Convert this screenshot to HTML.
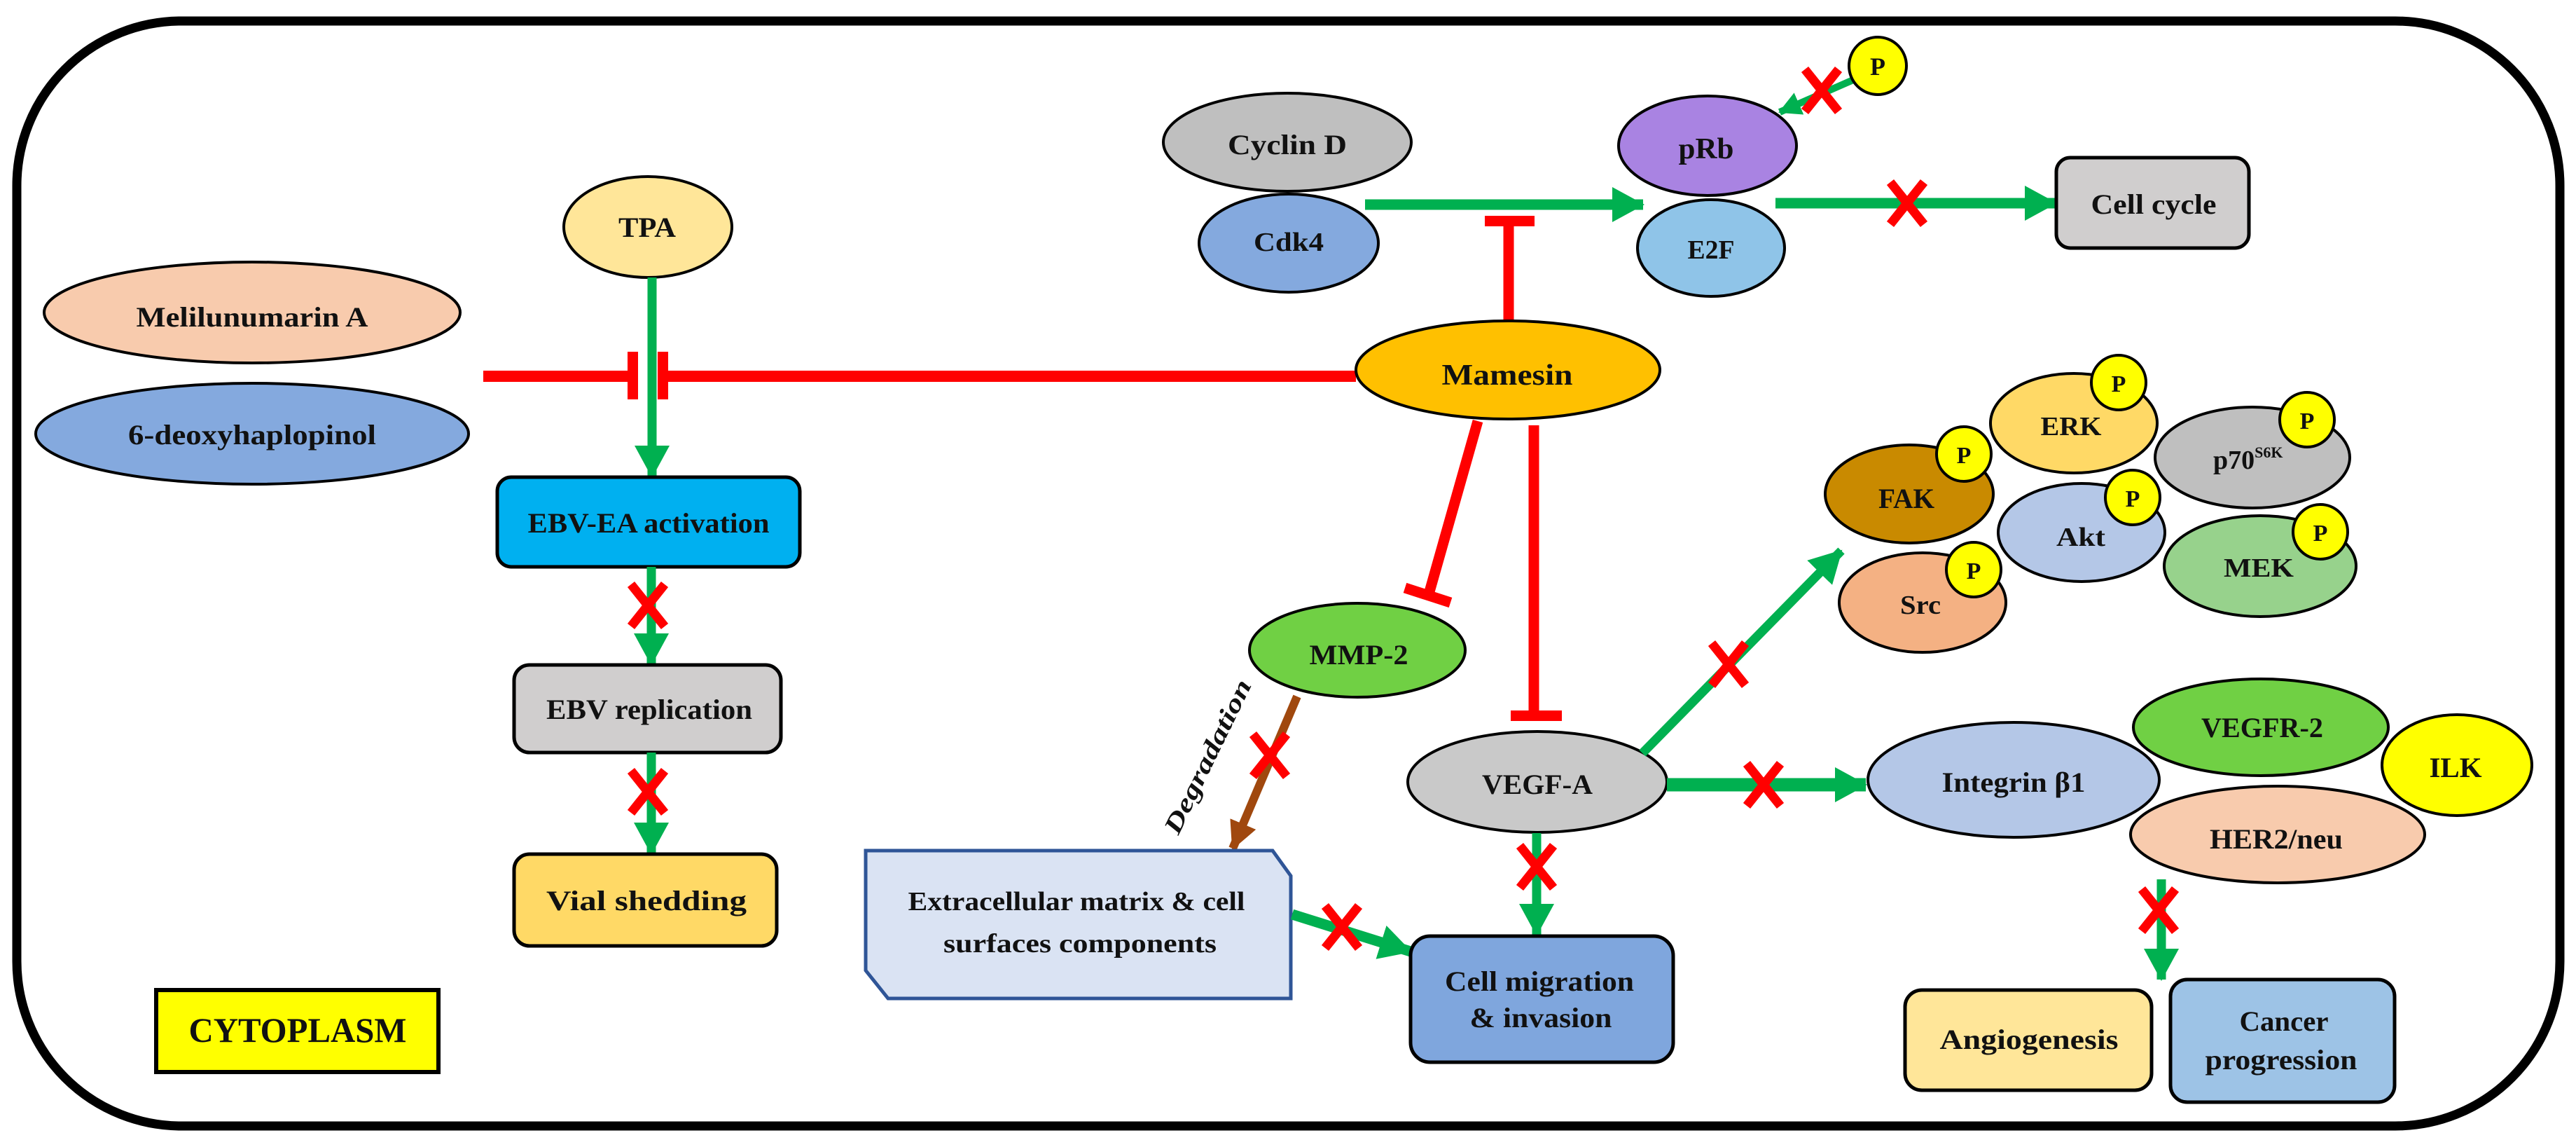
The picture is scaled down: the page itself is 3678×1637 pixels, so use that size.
<!DOCTYPE html>
<html><head><meta charset="utf-8"><style>
html,body{margin:0;padding:0;background:#fff;}
svg{display:block;}
text{font-family:"Liberation Serif",serif;font-weight:bold;fill:#111;}
</style></head><body>
<svg width="3678" height="1637" viewBox="0 0 3678 1637" xmlns="http://www.w3.org/2000/svg">
<defs>
<marker id="ag" markerUnits="userSpaceOnUse" markerWidth="46" markerHeight="50" refX="44" refY="25" orient="auto"><path d="M0,0 L46,25 L0,50 z" fill="#00B050"/></marker>
<marker id="ags" markerUnits="userSpaceOnUse" markerWidth="32" markerHeight="34" refX="30" refY="17" orient="auto"><path d="M0,0 L32,17 L0,34 z" fill="#00B050"/></marker>
<marker id="ab" markerUnits="userSpaceOnUse" markerWidth="40" markerHeight="40" refX="38" refY="20" orient="auto"><path d="M0,0 L40,20 L0,40 z" fill="#A0480E"/></marker>
<g id="x"><path d="M-24,-30 L24,30 M24,-30 L-24,30" stroke="#FF0000" stroke-width="13" stroke-linecap="butt" fill="none"/></g>
</defs>

<!-- outer cell border -->
<rect x="24" y="30" width="3631" height="1577" rx="235" ry="235" fill="#fff" stroke="#000" stroke-width="13"/>

<!-- left inhibitors -->
<ellipse cx="360" cy="446" rx="297" ry="72" fill="#F8CBAD" stroke="#000" stroke-width="4"/>
<text x="360" y="466" font-size="40" text-anchor="middle" textLength="331" lengthAdjust="spacingAndGlyphs">Melilunumarin A</text>
<ellipse cx="360" cy="619" rx="309" ry="72" fill="#84A9DE" stroke="#000" stroke-width="4"/>
<text x="360" y="634" font-size="40" text-anchor="middle" textLength="354" lengthAdjust="spacingAndGlyphs">6-deoxyhaplopinol</text>

<!-- TPA -->
<ellipse cx="925" cy="324" rx="120" ry="72" fill="#FFE699" stroke="#000" stroke-width="4"/>
<text x="924" y="338" font-size="40" text-anchor="middle" textLength="82" lengthAdjust="spacingAndGlyphs">TPA</text>

<!-- TPA -> EBV-EA -->
<line x1="931" y1="396" x2="931" y2="680" stroke="#00B050" stroke-width="13" marker-end="url(#ag)"/>
<!-- red inhibition lines -->
<line x1="690" y1="537" x2="903" y2="537" stroke="#FF0000" stroke-width="16"/>
<rect x="896" y="502" width="15" height="68" fill="#FF0000"/>
<line x1="946" y1="537" x2="1936" y2="537" stroke="#FF0000" stroke-width="16"/>
<rect x="939" y="502" width="15" height="68" fill="#FF0000"/>

<!-- EBV-EA activation -->
<rect x="710" y="681" width="432" height="128" rx="20" fill="#00B0F0" stroke="#000" stroke-width="5"/>
<text x="926" y="760" font-size="40" text-anchor="middle" textLength="345" lengthAdjust="spacingAndGlyphs">EBV-EA activation</text>
<line x1="930" y1="809" x2="930" y2="948" stroke="#00B050" stroke-width="13" marker-end="url(#ag)"/>
<use href="#x" x="925" y="864"/>
<!-- EBV replication -->
<rect x="734" y="949" width="381" height="125" rx="22" fill="#D0CECE" stroke="#000" stroke-width="5"/>
<text x="927" y="1026" font-size="40" text-anchor="middle" textLength="294" lengthAdjust="spacingAndGlyphs">EBV replication</text>
<line x1="930" y1="1074" x2="930" y2="1218" stroke="#00B050" stroke-width="13" marker-end="url(#ag)"/>
<use href="#x" x="925" y="1130"/>
<!-- Viral shedding -->
<rect x="734" y="1219" width="375" height="131" rx="22" fill="#FFD966" stroke="#000" stroke-width="5"/>
<text x="923" y="1299" font-size="40" text-anchor="middle" textLength="286" lengthAdjust="spacingAndGlyphs">Vial shedding</text>

<!-- CYTOPLASM -->
<rect x="223" y="1413" width="403" height="117" fill="#FFFF00" stroke="#000" stroke-width="6"/>
<text x="425" y="1487" font-size="50" text-anchor="middle" font-weight="normal" textLength="311" lengthAdjust="spacingAndGlyphs">CYTOPLASM</text>

<!-- Cyclin D / Cdk4 -->
<ellipse cx="1838" cy="203" rx="177" ry="70" fill="#BFBFBF" stroke="#000" stroke-width="4"/>
<text x="1838" y="220" font-size="40" text-anchor="middle" textLength="170" lengthAdjust="spacingAndGlyphs">Cyclin D</text>
<ellipse cx="1840" cy="347" rx="128" ry="70" fill="#84A9DE" stroke="#000" stroke-width="4"/>
<text x="1840" y="358" font-size="38" text-anchor="middle" textLength="100" lengthAdjust="spacingAndGlyphs">Cdk4</text>
<line x1="1949" y1="292" x2="2346" y2="292" stroke="#00B050" stroke-width="15" marker-end="url(#ag)"/>
<!-- Mamesin T to Cdk arrow -->
<line x1="2154" y1="460" x2="2154" y2="316" stroke="#FF0000" stroke-width="15"/>
<rect x="2120" y="308" width="71" height="15" fill="#FF0000"/>

<!-- pRb / E2F -->
<ellipse cx="2443" cy="354" rx="105" ry="69" fill="#8FC4E8" stroke="#000" stroke-width="4"/>
<text x="2443" y="369" font-size="38" text-anchor="middle" textLength="67" lengthAdjust="spacingAndGlyphs">E2F</text>
<ellipse cx="2438" cy="208" rx="127" ry="71" fill="#A983E2" stroke="#000" stroke-width="4"/>
<text x="2436" y="226" font-size="42" text-anchor="middle" textLength="79" lengthAdjust="spacingAndGlyphs">pRb</text>
<line x1="2646" y1="114" x2="2541" y2="160" stroke="#00B050" stroke-width="10" marker-end="url(#ags)"/>
<use href="#x" x="2601" y="129"/>
<circle cx="2681" cy="94" r="41" fill="#FFFF00" stroke="#000" stroke-width="4"/>
<text x="2681" y="107" font-size="36" text-anchor="middle">P</text>

<!-- -> cell cycle -->
<line x1="2535" y1="290" x2="2935" y2="290" stroke="#00B050" stroke-width="15" marker-end="url(#ag)"/>
<use href="#x" x="2723" y="290"/>
<rect x="2936" y="225" width="275" height="129" rx="20" fill="#D0CECE" stroke="#000" stroke-width="5"/>
<text x="3075" y="305" font-size="40" text-anchor="middle" textLength="179" lengthAdjust="spacingAndGlyphs">Cell cycle</text>

<!-- Mamesin -->
<ellipse cx="2153" cy="528" rx="217" ry="70" fill="#FFC000" stroke="#000" stroke-width="4"/>
<text x="2152" y="549" font-size="42" text-anchor="middle" textLength="187" lengthAdjust="spacingAndGlyphs">Mamesin</text>
<!-- to MMP-2 -->
<line x1="2110" y1="601" x2="2040" y2="848" stroke="#FF0000" stroke-width="15"/>
<line x1="2006" y1="839" x2="2071" y2="860" stroke="#FF0000" stroke-width="15"/>
<!-- to VEGF-A -->
<line x1="2190" y1="607" x2="2190" y2="1020" stroke="#FF0000" stroke-width="15"/>
<rect x="2157" y="1014" width="73" height="15" fill="#FF0000"/>

<!-- MMP-2 -->
<ellipse cx="1938" cy="928" rx="154" ry="67" fill="#70D044" stroke="#000" stroke-width="4"/>
<text x="1940" y="948" font-size="40" text-anchor="middle" textLength="141" lengthAdjust="spacingAndGlyphs">MMP-2</text>
<line x1="1852" y1="994" x2="1760" y2="1211" stroke="#A0480E" stroke-width="12" marker-end="url(#ab)"/>
<use href="#x" x="1813" y="1078"/>
<text x="0" y="0" font-size="36" font-style="italic" text-anchor="middle" textLength="240" lengthAdjust="spacingAndGlyphs" transform="translate(1735,1085) rotate(-64)">Degradation</text>

<!-- ECM -->
<polygon points="1236,1214 1817,1214 1843,1250 1843,1425 1268,1425 1236,1385" fill="#DAE3F3" stroke="#2F5597" stroke-width="5"/>
<text x="1537" y="1299" font-size="38" text-anchor="middle" font-weight="normal" textLength="481" lengthAdjust="spacingAndGlyphs">Extracellular matrix &amp; cell</text>
<text x="1542" y="1359" font-size="38" text-anchor="middle" font-weight="normal" textLength="390" lengthAdjust="spacingAndGlyphs">surfaces components</text>
<line x1="1845" y1="1305" x2="2014" y2="1358" stroke="#00B050" stroke-width="15" marker-end="url(#ag)"/>
<use href="#x" x="1916" y="1323"/>

<!-- VEGF-A -->
<ellipse cx="2195" cy="1116" rx="185" ry="72" fill="#C9C9C9" stroke="#000" stroke-width="4"/>
<text x="2195" y="1133" font-size="40" text-anchor="middle" textLength="158" lengthAdjust="spacingAndGlyphs">VEGF-A</text>
<line x1="2194" y1="1189" x2="2194" y2="1334" stroke="#00B050" stroke-width="13" marker-end="url(#ag)"/>
<use href="#x" x="2194" y="1237"/>
<line x1="2345" y1="1075" x2="2629" y2="786" stroke="#00B050" stroke-width="13" marker-end="url(#ag)"/>
<use href="#x" x="2468" y="948"/>
<line x1="2380" y1="1120" x2="2664" y2="1120" stroke="#00B050" stroke-width="19" marker-end="url(#ag)"/>
<use href="#x" x="2518" y="1120"/>

<!-- Cell migration -->
<rect x="2014" y="1336" width="375" height="180" rx="28" fill="#7FA6DD" stroke="#000" stroke-width="5"/>
<text x="2198" y="1414" font-size="40" text-anchor="middle" textLength="270" lengthAdjust="spacingAndGlyphs">Cell migration</text>
<text x="2200" y="1466" font-size="40" text-anchor="middle" textLength="203" lengthAdjust="spacingAndGlyphs">&amp; invasion</text>

<!-- kinase cluster -->
<ellipse cx="2745" cy="860" rx="119" ry="71" fill="#F4B183" stroke="#000" stroke-width="4"/>
<text x="2742" y="876" font-size="38" text-anchor="middle" textLength="58" lengthAdjust="spacingAndGlyphs">Src</text>
<circle cx="2818" cy="813" r="39" fill="#FFFF00" stroke="#000" stroke-width="4"/>
<text x="2818" y="826" font-size="34" text-anchor="middle">P</text>

<ellipse cx="2726" cy="705" rx="120" ry="70" fill="#C98A00" stroke="#000" stroke-width="4"/>
<text x="2722" y="725" font-size="40" text-anchor="middle" textLength="80" lengthAdjust="spacingAndGlyphs">FAK</text>
<circle cx="2804" cy="648" r="39" fill="#FFFF00" stroke="#000" stroke-width="4"/>
<text x="2804" y="661" font-size="34" text-anchor="middle">P</text>

<ellipse cx="2961" cy="604" rx="119" ry="71" fill="#FFD966" stroke="#000" stroke-width="4"/>
<text x="2957" y="621" font-size="38" text-anchor="middle" textLength="87" lengthAdjust="spacingAndGlyphs">ERK</text>
<circle cx="3025" cy="546" r="39" fill="#FFFF00" stroke="#000" stroke-width="4"/>
<text x="3025" y="559" font-size="34" text-anchor="middle">P</text>

<ellipse cx="2972" cy="760" rx="119" ry="70" fill="#B4C7E7" stroke="#000" stroke-width="4"/>
<text x="2971" y="779" font-size="38" text-anchor="middle" textLength="70" lengthAdjust="spacingAndGlyphs">Akt</text>
<circle cx="3045" cy="710" r="39" fill="#FFFF00" stroke="#000" stroke-width="4"/>
<text x="3045" y="723" font-size="34" text-anchor="middle">P</text>

<ellipse cx="3216" cy="653" rx="139" ry="72" fill="#BFBFBF" stroke="#000" stroke-width="4"/>
<text x="3160" y="669" font-size="38" font-weight="normal">p70<tspan font-size="22" dy="-16">S6K</tspan></text>
<circle cx="3294" cy="599" r="39" fill="#FFFF00" stroke="#000" stroke-width="4"/>
<text x="3294" y="612" font-size="34" text-anchor="middle">P</text>

<ellipse cx="3227" cy="808" rx="137" ry="72" fill="#97D28C" stroke="#000" stroke-width="4"/>
<text x="3225" y="823" font-size="38" text-anchor="middle" textLength="100" lengthAdjust="spacingAndGlyphs">MEK</text>
<circle cx="3313" cy="759" r="39" fill="#FFFF00" stroke="#000" stroke-width="4"/>
<text x="3313" y="772" font-size="34" text-anchor="middle">P</text>

<!-- receptor cluster -->
<ellipse cx="3228" cy="1038" rx="182" ry="69" fill="#70D044" stroke="#000" stroke-width="4"/>
<text x="3230" y="1052" font-size="40" text-anchor="middle" textLength="174" lengthAdjust="spacingAndGlyphs">VEGFR-2</text>
<ellipse cx="3508" cy="1092" rx="107" ry="72" fill="#FFFF00" stroke="#000" stroke-width="4"/>
<text x="3506" y="1109" font-size="40" text-anchor="middle" textLength="75" lengthAdjust="spacingAndGlyphs">ILK</text>
<ellipse cx="3252" cy="1191" rx="210" ry="69" fill="#F8CBAD" stroke="#000" stroke-width="4"/>
<text x="3250" y="1211" font-size="40" text-anchor="middle" textLength="190" lengthAdjust="spacingAndGlyphs">HER2/neu</text>
<ellipse cx="2875" cy="1113" rx="208" ry="82" fill="#B4C7E7" stroke="#000" stroke-width="4"/>
<text x="2875" y="1130" font-size="40" text-anchor="middle" textLength="205" lengthAdjust="spacingAndGlyphs">Integrin β1</text>

<line x1="3086" y1="1255" x2="3086" y2="1398" stroke="#00B050" stroke-width="13" marker-end="url(#ag)"/>
<use href="#x" x="3082" y="1299"/>

<!-- outcomes -->
<rect x="2720" y="1413" width="352" height="143" rx="24" fill="#FFE699" stroke="#000" stroke-width="5"/>
<text x="2897" y="1497" font-size="40" text-anchor="middle" textLength="255" lengthAdjust="spacingAndGlyphs">Angiogenesis</text>
<rect x="3099" y="1398" width="320" height="175" rx="24" fill="#9DC3E6" stroke="#000" stroke-width="5"/>
<text x="3261" y="1471" font-size="40" text-anchor="middle" textLength="127" lengthAdjust="spacingAndGlyphs">Cancer</text>
<text x="3257" y="1526" font-size="40" text-anchor="middle" textLength="217" lengthAdjust="spacingAndGlyphs">progression</text>
</svg>
</body></html>
